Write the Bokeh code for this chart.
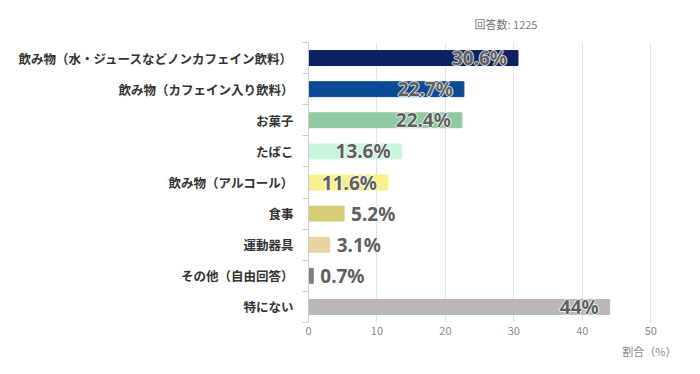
from bokeh.plotting import figure
from bokeh.models import ColumnDataSource, FixedTicker, Range1d, Title
from bokeh.embed import file_html
from bokeh.resources import INLINE
from bokeh.core.properties import value

categories = ["飲み物（水・ジュースなどノンカフェイン飲料）", "飲み物（カフェイン入り飲料）", "お菓子", "たばこ",
              "飲み物（アルコール）", "食事", "運動器具", "その他（自由回答）", "特にない"]
values = [30.6, 22.7, 22.4, 13.6, 11.6, 5.2, 3.1, 0.7, 44]
labels = ["30.6%", "22.7%", "22.4%", "13.6%", "11.6%", "5.2%", "3.1%", "0.7%", "44%"]
colors = ["#0b2262", "#0c4a96", "#8fcaa5", "#c6f6de", "#f8f08a", "#d5cd73", "#e7d4a2", "#808080", "#bdb6b6"]
x_ticks = [0, 10, 20, 30, 40, 50]

n = len(categories)
ypos = [n - 1 - i for i in range(n)]
inside = [v >= 10 for v in values]
xoff = [-11 if f else 7 for f in inside]

JP = "Noto Sans CJK JP"
LABEL_FONT = dict(text_font=value("Noto Sans"), text_font_style="bold", text_font_size="19px",
                  text_baseline="middle")

p = figure(width=684, height=362, output_backend="svg", toolbar_location=None,
           x_range=Range1d(0, 52), y_range=Range1d(-0.5, n - 0.5),
           min_border_left=308, min_border_right=20, min_border_top=42, min_border_bottom=40)
p.outline_line_color = None
p.background_fill_color = "white"
p.border_fill_color = "white"

bars = ColumnDataSource(dict(y=ypos, v=values, c=colors))
p.hbar(y="y", right="v", left=0, height=0.48, color="c", source=bars)

# white halo behind the value labels (only visible over bars)
for dx, dy in [(-1, 0), (1, 0), (0, -1), (0, 1)]:
    halo = ColumnDataSource(dict(
        y=ypos, v=values, lab=labels,
        align=["right" if f else "left" for f in inside],
        xo=[o + dx for o in xoff], yo=[dy] * n,
    ))
    p.text(x="v", y="y", text="lab", x_offset="xo", y_offset="yo", text_align="align",
           text_color="white", text_alpha=0.75, source=halo, **LABEL_FONT)

lab_src = ColumnDataSource(dict(
    y=ypos, v=values, lab=labels,
    align=["right" if f else "left" for f in inside], xo=xoff,
))
p.text(x="v", y="y", text="lab", x_offset="xo", text_align="align",
       text_color="#5f5f5f", source=lab_src, **LABEL_FONT)

# y axis
yax = p.yaxis[0]
yax.ticker = FixedTicker(ticks=ypos, minor_ticks=[k - 0.5 for k in range(n + 1)])
yax.major_label_overrides = {y: c for y, c in zip(ypos, categories)}
yax.major_tick_line_color = None
yax.major_tick_out = 0
yax.major_tick_in = 0
yax.minor_tick_line_color = "#cccccc"
yax.minor_tick_out = 6
yax.minor_tick_in = 0
yax.axis_line_color = "#cccccc"
yax.major_label_standoff = 9
yax.major_label_text_font = JP
yax.major_label_text_font_style = "bold"
yax.major_label_text_font_size = "12.5px"
yax.major_label_text_color = "#333333"

# x axis
xax = p.xaxis[0]
xax.ticker = FixedTicker(ticks=x_ticks)
xax.axis_line_color = None
xax.major_tick_line_color = None
xax.minor_tick_line_color = None
xax.major_tick_out = 0
xax.major_label_standoff = 4
xax.major_label_text_font = JP
xax.major_label_text_font_size = "11px"
xax.major_label_text_color = "#8a8a8a"

p.ygrid.grid_line_color = None
p.xgrid.grid_line_color = "#e3e3e3"
p.xgrid.ticker = FixedTicker(ticks=x_ticks[1:])

p.add_layout(Title(text="回答数: 1225", align="left", offset=166, standoff=21,
                   text_font=JP, text_font_size="11px", text_font_style="normal",
                   text_color="#777777"), "above")
p.add_layout(Title(text="割合（%）", align="right", offset=-12, standoff=6,
                   text_font=JP, text_font_size="11px", text_font_style="normal",
                   text_color="#8a8a8a"), "below")

open("out.html", "w").write(file_html(p, INLINE))
